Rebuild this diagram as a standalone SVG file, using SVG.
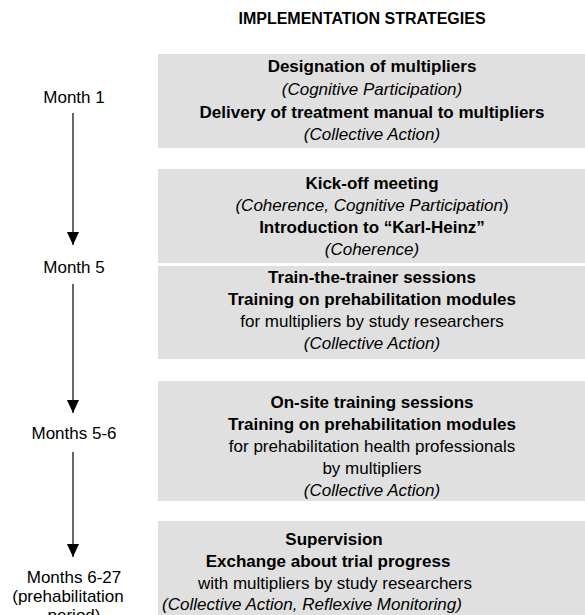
<svg xmlns="http://www.w3.org/2000/svg" width="585" height="615" viewBox="0 0 585 615">
<style>
text{font-family:"Liberation Sans",Arial,sans-serif;font-size:17px;fill:#000;text-anchor:middle}
.b{font-weight:bold}
.i{font-style:italic}
.t{font-size:16px}
.box{fill:#e0e0e0}
.ln{stroke:#000;stroke-width:1.2;fill:none}
</style>
<defs>
<marker id="ah" markerWidth="13" markerHeight="12" refX="13" refY="6" orient="auto" markerUnits="userSpaceOnUse" viewBox="0 0 13 12">
<path d="M0,0 L13,6 L0,12 Z" fill="#000"/>
</marker>
</defs>
<rect width="585" height="615" fill="#fff"/>
<text id="title" class="b t" x="362" y="24">IMPLEMENTATION STRATEGIES</text>
<g id="month1"><text x="74" y="103">Month 1</text></g>
<g id="month5"><text x="74" y="273">Month 5</text></g>
<g id="month56"><text x="74" y="439">Months 5-6</text></g>
<g id="month627"><text x="74" y="583">Months 6-27</text><text x="68" y="602">(prehabilitation</text><text x="74" y="621">period)</text></g>
<g id="connectors">
<path class="ln" d="M73,113 V245" marker-end="url(#ah)"/>
<path class="ln" d="M73,284 V413" marker-end="url(#ah)"/>
<path class="ln" d="M73,452 V557" marker-end="url(#ah)"/>
</g>
<g id="box1"><rect class="box" x="158" y="54" width="427" height="94"/>
<text class="b" x="372" y="72">Designation of multipliers</text>
<text class="i" x="372" y="95">(Cognitive Participation)</text>
<text class="b" x="372" y="118">Delivery of treatment manual to multipliers</text>
<text class="i" x="372" y="140">(Collective Action)</text></g>
<g id="box2"><rect class="box" x="158" y="169" width="427" height="94"/>
<text class="b" x="372" y="189">Kick-off meeting</text>
<text x="372" y="211"><tspan class="i">(Coherence, Cognitive Participation</tspan>)</text>
<text class="b" x="372" y="233">Introduction to “Karl-Heinz”</text>
<text class="i" x="372" y="255">(Coherence)</text></g>
<g id="box3"><rect class="box" x="158" y="266" width="427" height="93"/>
<text class="b" x="372" y="283">Train-the-trainer sessions</text>
<text class="b" x="372" y="305">Training on prehabilitation modules</text>
<text x="372" y="327">for multipliers by study researchers</text>
<text class="i" x="372" y="349">(Collective Action)</text></g>
<g id="box4"><rect class="box" x="158" y="381" width="427" height="120"/>
<text class="b" x="372" y="408">On-site training sessions</text>
<text class="b" x="372" y="430">Training on prehabilitation modules</text>
<text x="372" y="452">for prehabilitation health professionals</text>
<text x="372" y="474">by multipliers</text>
<text class="i" x="372" y="496">(Collective Action)</text></g>
<g id="box5"><rect class="box" x="158" y="521" width="427" height="94"/>
<text class="b" x="334" y="545">Supervision</text>
<text class="b" x="328" y="567">Exchange about trial progress</text>
<text x="335" y="589">with multipliers by study researchers</text>
<text class="i" x="312" y="610">(Collective Action, Reflexive Monitoring)</text></g>
</svg>
